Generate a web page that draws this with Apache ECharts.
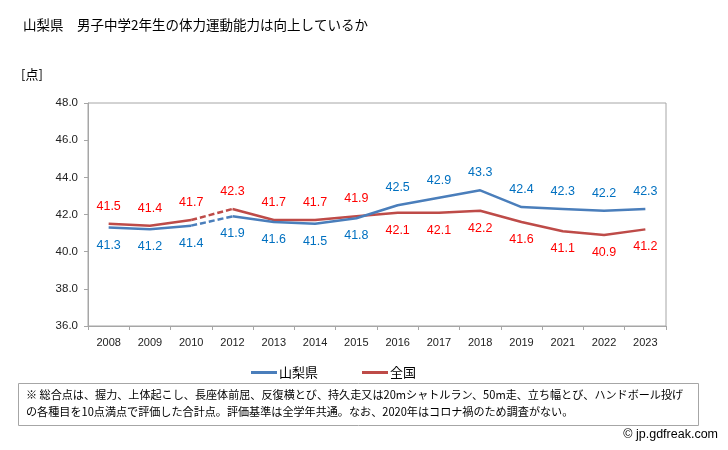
<!DOCTYPE html>
<html><head><meta charset="utf-8">
<script src="https://cdn.jsdelivr.net/npm/echarts@6/dist/echarts.min.js"></script>
<style>html,body{margin:0;padding:0;background:#fff}#c{width:728px;height:450px}</style>
</head><body><div id="c"></div>
<script>
const years = ['2008','2009','2010','2012','2013','2014','2015','2016','2017','2018','2019','2021','2022','2023'];
const yamanashi = [41.3,41.2,41.4,41.9,41.6,41.5,41.8,42.5,42.9,43.3,42.4,42.3,42.2,42.3];
const national = [41.5,41.4,41.7,42.3,41.7,41.7,41.9,42.1,42.1,42.2,41.6,41.1,40.9,41.2];
const yTicks = [36,38,40,42,44,46,48];

const BLUE = '#4A7EBB', RED = '#BE4B48';
const BLUE_T = '#0070C0', RED_T = '#FF0000';
const breakIdx = 2; // segment 2010 -> 2012 is dashed (2011 missing)
const FONT = '"Noto Sans CJK JP", sans-serif';

function seg(arr, from, to) { return arr.map((v, i) => (i >= from && i <= to) ? v : null); }
function labeled(arr, lowFirst) {
  return arr.map((v, i) => ({ value: v, label: { position: (i < 7) === lowFirst ? 'bottom' : 'top' } }));
}
function lines(arr, color, tag) {
  const base = { type: 'line', showSymbol: false, symbol: 'none', silent: true, z: 2, connectNulls: false };
  return [
    Object.assign({}, base, { name: tag + '_a', data: seg(arr, 0, breakIdx), lineStyle: { color, width: 2.5 } }),
    Object.assign({}, base, { name: tag + '_b', data: seg(arr, breakIdx, breakIdx + 1), lineStyle: { color, width: 2.5, type: [6, 3] } }),
    Object.assign({}, base, { name: tag + '_c', data: seg(arr, breakIdx + 1, arr.length - 1), lineStyle: { color, width: 2.5 } })
  ];
}
function labelSeries(name, arr, color, tcolor, lowFirst) {
  return {
    type: 'line', name, data: labeled(arr, lowFirst), showSymbol: true, symbol: 'circle', symbolSize: 0.1,
    itemStyle: { color }, lineStyle: { width: 0, opacity: 0 }, z: 3, silent: true,
    label: { show: true, color: tcolor, fontSize: 12.5, fontFamily: 'Liberation Sans, Arial, sans-serif', distance: 11,
      formatter: p => p.value.toFixed(1) }
  };
}

const chart = echarts.init(document.getElementById('c'), null, { renderer: 'canvas' });
chart.setOption({
  animation: false,
  backgroundColor: '#fff',
  title: { text: '山梨県\u3000男子中学2年生の体力運動能力は向上しているか', left: 18, top: 13,
    textStyle: { fontSize: 13.5, fontWeight: 'normal', color: '#000', fontFamily: FONT } },
  legend: {
    top: 366, left: 251, padding: 0, itemGap: 44, itemWidth: 26, itemHeight: 3, icon: 'rect',
    textStyle: { fontSize: 13, color: '#000', fontFamily: FONT, padding: [0, 0, 0, -3] },
    data: [ { name: '山梨県', itemStyle: { color: BLUE } }, { name: '全国', itemStyle: { color: RED } } ]
  },
  grid: { left: 88, right: 62, top: 103, bottom: 124, show: true, borderColor: '#A6A6A6', borderWidth: 1 },
  xAxis: {
    type: 'category', data: years, boundaryGap: true,
    axisLine: { lineStyle: { color: '#A6A6A6' } },
    axisTick: { show: true, length: 4, lineStyle: { color: '#A6A6A6' } },
    axisLabel: { color: '#222', fontSize: 11, margin: 11, fontFamily: 'Liberation Sans, Arial, sans-serif' }
  },
  yAxis: {
    type: 'value', min: yTicks[0], max: yTicks[yTicks.length - 1], interval: 2,
    axisLine: { show: true, lineStyle: { color: '#A6A6A6' } },
    axisTick: { show: true, length: 4, lineStyle: { color: '#A6A6A6' } },
    splitLine: { show: false },
    axisLabel: { color: '#222', fontSize: 11.5, margin: 10, fontFamily: 'Liberation Sans, Arial, sans-serif', formatter: v => v.toFixed(1) }
  },
  series: [
    ...lines(national, RED, 'n'),
    ...lines(yamanashi, BLUE, 'y'),
    labelSeries('山梨県', yamanashi, BLUE, BLUE_T, true),
    labelSeries('全国', national, RED, RED_T, false)
  ],
  graphic: [
    { type: 'text', left: 21, top: 68, style: { text: '[点]', fontSize: 13, fill: '#000', fontFamily: FONT } },
    { type: 'rect', shape: { x: 18.5, y: 383.5, width: 680, height: 42 }, style: { fill: 'none', stroke: '#A6A6A6', lineWidth: 1 } },
    { type: 'text', left: 26, top: 389, style: { text: '※ 総合点は、握力、上体起こし、長座体前屈、反復横とび、持久走又は20mシャトルラン、50m走、立ち幅とび、ハンドボール投げ', fontSize: 11.1, fill: '#000', fontFamily: FONT } },
    { type: 'text', left: 26, top: 406, style: { text: 'の各種目を10点満点で評価した合計点。評価基準は全学年共通。なお、2020年はコロナ禍のため調査がない。', fontSize: 11.1, fill: '#000', fontFamily: FONT } },
    { type: 'text', right: 10, top: 428, style: { text: '© jp.gdfreak.com', fontSize: 12.5, fill: '#000', fontFamily: 'Liberation Sans, Arial, sans-serif' } }
  ]
});
</script></body></html>
